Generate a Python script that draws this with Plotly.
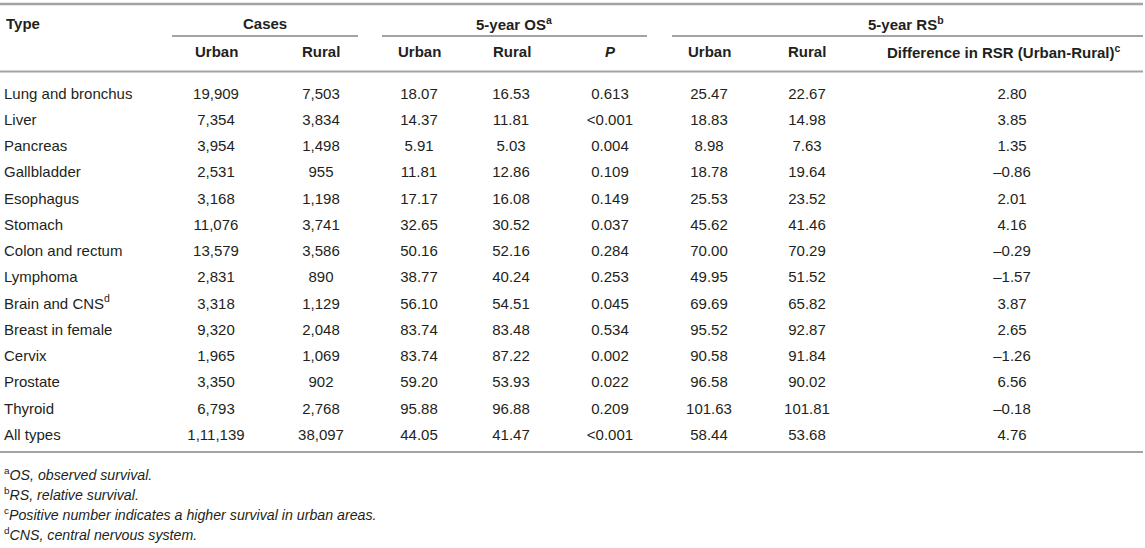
import plotly.graph_objects as go

# survival table, urban vs rural
types = ["Lung and bronchus", "Liver", "Pancreas", "Gallbladder", "Esophagus", "Stomach",
         "Colon and rectum", "Lymphoma", "Brain and CNS<sup>d</sup>", "Breast in female",
         "Cervix", "Prostate", "Thyroid", "All types"]
cases_urban = ["19,909", "7,354", "3,954", "2,531", "3,168", "11,076", "13,579", "2,831",
               "3,318", "9,320", "1,965", "3,350", "6,793", "1,11,139"]
cases_rural = ["7,503", "3,834", "1,498", "955", "1,198", "3,741", "3,586", "890",
               "1,129", "2,048", "1,069", "902", "2,768", "38,097"]
os_urban = [18.07, 14.37, 5.91, 11.81, 17.17, 32.65, 50.16, 38.77, 56.10, 83.74, 83.74, 59.20, 95.88, 44.05]
os_rural = [16.53, 11.81, 5.03, 12.86, 16.08, 30.52, 52.16, 40.24, 54.51, 83.48, 87.22, 53.93, 96.88, 41.47]
p_values = ["0.613", "&lt;0.001", "0.004", "0.109", "0.149", "0.037", "0.284", "0.253",
            "0.045", "0.534", "0.002", "0.022", "0.209", "&lt;0.001"]
rs_urban = [25.47, 18.83, 8.98, 18.78, 25.53, 45.62, 70.00, 49.95, 69.69, 95.52, 90.58, 96.58, 101.63, 58.44]
rs_rural = [22.67, 14.98, 7.63, 19.64, 23.52, 41.46, 70.29, 51.52, 65.82, 92.87, 91.84, 90.02, 101.81, 53.68]
rsr_diff = [2.80, 3.85, 1.35, -0.86, 2.01, 4.16, -0.29, -1.57, 3.87, 2.65, -1.26, 6.56, -0.18, 4.76]

footnotes = ["<sup>a</sup><i>OS, observed survival.</i>",
             "<sup>b</sup><i>RS, relative survival.</i>",
             "<sup>c</sup><i>Positive number indicates a higher survival in urban areas.</i>",
             "<sup>d</sup><i>CNS, central nervous system.</i>"]

FONT = "Liberation Sans, Arial, sans-serif"
INK = "#231f20"
RULE = "#a3a3a3"
SIZE = 15


def fmt(v):
    s = "%.2f" % abs(v)
    return ("–" + s) if v < 0 else s


row_y = [95 + i * 26.23 for i in range(len(types))]

columns = [
    (4, types, "middle right"),
    (216, cases_urban, "middle center"),
    (321, cases_rural, "middle center"),
    (419, [fmt(v) for v in os_urban], "middle center"),
    (511, [fmt(v) for v in os_rural], "middle center"),
    (610, p_values, "middle center"),
    (709, [fmt(v) for v in rs_urban], "middle center"),
    (807, [fmt(v) for v in rs_rural], "middle center"),
    (1012, [fmt(v) for v in rsr_diff], "middle center"),
]

fig = go.Figure()
for x, vals, pos in columns:
    fig.add_trace(go.Scatter(
        x=[x] * len(vals), y=row_y, text=vals, mode="text",
        textposition=pos, textfont=dict(family=FONT, size=SIZE, color=INK),
        hoverinfo="skip", showlegend=False, cliponaxis=False))

# headers
headers = [
    (4, 23, "<b>Type</b>", "left"),
    (265, 23, "<b>Cases</b>", "center"),
    (514, 23, "<b>5-year OS<sup>a</sup></b>", "center"),
    (906, 23, "<b>5-year RS<sup>b</sup></b>", "center"),
    (216, 51, "<b>Urban</b>", "center"),
    (321, 51, "<b>Rural</b>", "center"),
    (419, 51, "<b>Urban</b>", "center"),
    (512, 51, "<b>Rural</b>", "center"),
    (610, 51, "<b><i>P</i></b>", "center"),
    (709, 51, "<b>Urban</b>", "center"),
    (807, 51, "<b>Rural</b>", "center"),
    (1004, 51, "<b>Difference in RSR (Urban-Rural)<sup>c</sup></b>", "center"),
]
for x, y, t, anchor in headers:
    fig.add_annotation(x=x, y=y, text=t, showarrow=False, xanchor=anchor, yanchor="middle",
                       font=dict(family=FONT, size=SIZE, color=INK))

for i, t in enumerate(footnotes):
    fig.add_annotation(x=2, y=474 + i * 20, text=t, showarrow=False, xanchor="left",
                       yanchor="middle", font=dict(family=FONT, size=14.2, color=INK))

# rules
rules = [(0, 1143, 4, 2.4), (172, 358, 36, 2), (382, 647, 36, 2), (672, 1143, 36, 2),
         (0, 1143, 71.5, 2), (0, 1143, 452, 2)]
for x0, x1, y, w in rules:
    fig.add_shape(type="line", x0=x0, x1=x1, y0=y, y1=y, xref="x", yref="y",
                  line=dict(color=RULE, width=w))

fig.update_layout(
    width=1145, height=548,
    margin=dict(l=0, r=0, t=0, b=0, pad=0),
    paper_bgcolor="white", plot_bgcolor="white",
    xaxis=dict(range=[0, 1145], visible=False, fixedrange=True),
    yaxis=dict(range=[548, 0], visible=False, fixedrange=True),
)

fig.write_html("out.html", config={"displayModeBar": False},
               post_script="document.body.style.margin='0';document.body.style.overflow='hidden';")
